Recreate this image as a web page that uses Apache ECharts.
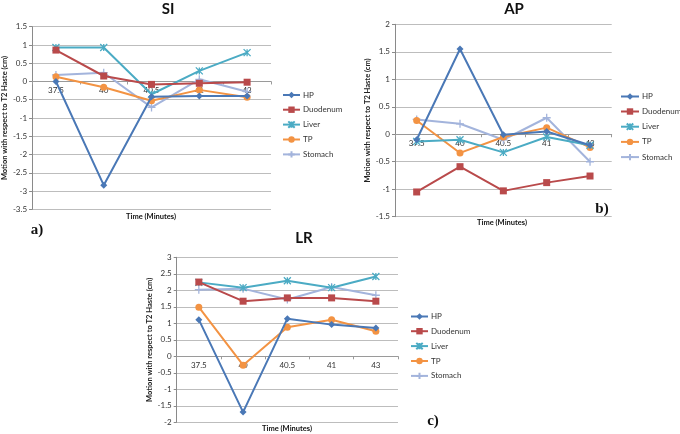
<!DOCTYPE html>
<html>
<head>
<meta charset="utf-8">
<script src="https://cdn.jsdelivr.net/npm/echarts@6/dist/echarts.min.js"></script>
<style>html,body{margin:0;padding:0;background:#fff}#c{width:680px;height:434px}</style>
</head>
<body>
<div id="c"></div>
<script>
const categories = ['37.5', '40', '40.5', '41', '43'];
const seriesNames = ['HP', 'Duodenum', 'Liver', 'TP', 'Stomach'];
const panelTitles = ['SI', 'AP', 'LR'];
const panelLetters = ['a)', 'b)', 'c)'];
const xAxisTitle = 'Time (Minutes)';
const yAxisTitle = 'Motion with respect to T2 Haste (cm)';

// SI panel
const siHP       = [0.00, -2.84, -0.42, -0.40, -0.40];
const siDuodenum = [0.86, 0.15, -0.08, -0.05, -0.02];
const siLiver    = [0.93, 0.93, -0.35, 0.29, 0.79];
const siTP       = [0.13, -0.16, -0.53, -0.23, -0.43];
const siStomach  = [0.18, 0.24, -0.71, 0.06, -0.28];

// AP panel
const apHP       = [-0.10, 1.55, -0.01, 0.05, -0.20];
const apDuodenum = [-1.05, -0.59, -1.03, -0.88, -0.76];
const apLiver    = [-0.13, -0.10, -0.33, -0.05, -0.20];
const apTP       = [0.25, -0.34, -0.05, 0.12, -0.24];
const apStomach  = [0.27, 0.19, -0.10, 0.30, -0.50];

// LR panel
const lrHP       = [1.11, -1.69, 1.14, 0.96, 0.86];
const lrDuodenum = [2.25, 1.67, 1.77, 1.77, 1.67];
const lrLiver    = [2.24, 2.08, 2.29, 2.08, 2.42];
const lrTP       = [1.49, -0.27, 0.88, 1.11, 0.76];
const lrStomach  = [2.02, 2.05, 1.72, 2.10, 1.85];

const yRanges = [[-3.5, 1.5], [-1.5, 2], [-2, 3]];

const colors = ['#4A78B6', '#B94A4B', '#4BABC4', '#F39343', '#A3B4DC'];
const symbols = [
  'diamond',
  'rect',
  'path://M0,0L10,10M10,0L0,10M5,0L5,10',
  'circle',
  'path://M5,0L5,10M0,5L10,5'
];
const symbolSizes = [7, 7, 7, 7, 8];

const panels = [
  [siHP, siDuodenum, siLiver, siTP, siStomach],
  [apHP, apDuodenum, apLiver, apTP, apStomach],
  [lrHP, lrDuodenum, lrLiver, lrTP, lrStomach]
];

const FONT = 'Lato';
const grids = [
  { left: 31, top: 26.7, width: 240, height: 182.6 },
  { left: 395, top: 24.3, width: 216.7, height: 192.4 },
  { left: 176.7, top: 257.3, width: 221.3, height: 165 }
];
const yNameGaps = [22, 23, 20];
const legends = [
  { left: 282, top: 91, itemWidth: 17, itemGap: 6.7 },
  { left: 620, top: 92.5, itemWidth: 18, itemGap: 7 },
  { left: 410, top: 312.5, itemWidth: 17, itemGap: 6.7 }
];

const xAxes = [], yAxes = [], series = [], legendOpts = [];
for (let p = 0; p < 3; p++) {
  // place the category axis where the value scale crosses zero (Excel "axis crosses at 0")
  const zeroFromBottom = grids[p].height * (0 - yRanges[p][0]) / (yRanges[p][1] - yRanges[p][0]);
  xAxes.push({
    type: 'category', gridIndex: p, data: categories, boundaryGap: true,
    position: 'bottom', offset: -zeroFromBottom,
    axisLine: { onZero: false, lineStyle: { color: '#9a9a9a', width: 1 } },
    axisTick: { show: true, length: 3, lineStyle: { color: '#9a9a9a' } },
    axisLabel: { interval: 0, fontSize: 8, color: '#333', fontFamily: FONT, margin: 5 },
    splitLine: { show: false }
  });
  yAxes.push({
    type: 'value', gridIndex: p, min: yRanges[p][0], max: yRanges[p][1], interval: 0.5,
    name: yAxisTitle, nameLocation: 'middle', nameRotate: 90, nameGap: yNameGaps[p],
    nameTextStyle: { fontSize: 7.5, fontWeight: 'bold', color: '#222', fontFamily: FONT },
    axisLine: { show: true, lineStyle: { color: '#8a8a8a', width: 1 } },
    axisTick: { show: true, length: 3, lineStyle: { color: '#8a8a8a' } },
    axisLabel: { fontSize: 8, color: '#333', fontFamily: FONT, margin: 5 },
    splitLine: { show: true, lineStyle: { color: '#BDBDBD', width: 1 } }
  });
  for (let s = 0; s < 5; s++) {
    series.push({
      type: 'line', name: seriesNames[s], xAxisIndex: p, yAxisIndex: p,
      data: panels[p][s],
      symbol: symbols[s], symbolSize: symbolSizes[s], showSymbol: true,
      lineStyle: { color: colors[s], width: 2 },
      itemStyle: { color: colors[s], borderColor: colors[s], borderWidth: (s === 2 || s === 4) ? 1.3 : 0 },
      z: 10 - s,
      animation: false
    });
  }
  legendOpts.push(Object.assign({
    orient: 'vertical', data: seriesNames, itemHeight: 8,
    textStyle: { fontSize: 8, color: '#333', fontFamily: FONT, padding: [0, 0, 0, -2] },
    padding: 0, selectedMode: false
  }, legends[p]));
}

const textEl = (txt, x, y, size, weight, family, rotation) => ({
  type: 'text', x: x, y: y, rotation: rotation || 0,
  style: { text: txt, fontSize: size, fontWeight: weight, fontFamily: family, fill: '#111', align: 'center', verticalAlign: 'middle' }
});

const option = {
  animation: false,
  backgroundColor: '#fff',
  grid: grids,
  xAxis: xAxes,
  yAxis: yAxes,
  legend: legendOpts,
  series: series,
  graphic: [
    textEl(panelTitles[0], 168, 9, 15, 'bold', FONT),
    textEl(panelTitles[1], 514, 9, 15, 'bold', FONT),
    textEl(panelTitles[2], 304, 238, 15, 'bold', FONT),
    textEl(xAxisTitle, 151, 217, 7.5, 'bold', FONT),
    textEl(xAxisTitle, 502, 223, 7.5, 'bold', FONT),
    textEl(xAxisTitle, 287, 429, 7.5, 'bold', FONT),
    textEl(panelLetters[0], 37, 230, 15, 'bold', 'Liberation Serif'),
    textEl(panelLetters[1], 602, 209, 15, 'bold', 'Liberation Serif'),
    textEl(panelLetters[2], 433, 421, 15, 'bold', 'Liberation Serif')
  ]
};

const chart = echarts.init(document.getElementById('c'), null, { renderer: 'canvas' });
chart.setOption(option);
</script>
</body>
</html>
